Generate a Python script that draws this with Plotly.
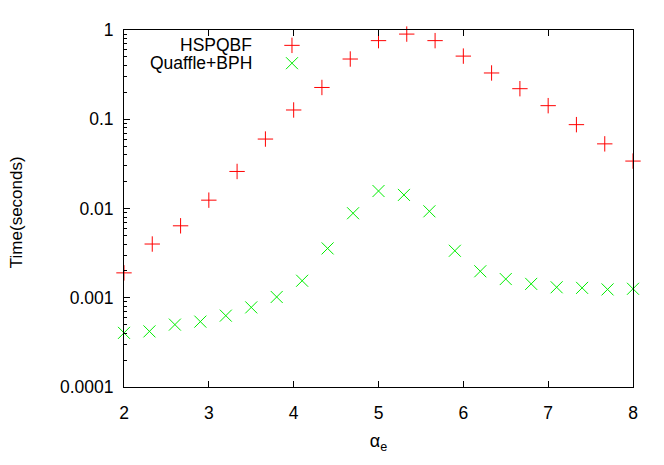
import plotly.graph_objects as go

# HSPQBF series
alpha_hspqbf = [2.0, 2.333, 2.667, 3.0, 3.333, 3.667, 4.0, 4.333, 4.667, 5.0,
                5.333, 5.667, 6.0, 6.333, 6.667, 7.0, 7.333, 7.667, 8.0]
time_hspqbf = [0.0019, 0.0040, 0.0064, 0.0124, 0.026, 0.060, 0.127, 0.227, 0.473, 0.76,
               0.90, 0.76, 0.51, 0.33, 0.22, 0.142, 0.087, 0.053, 0.034]

# Quaffle+BPH series
alpha_quaffle = [2.0, 2.3, 2.6, 2.9, 3.2, 3.5, 3.8, 4.1, 4.4, 4.7, 5.0,
                 5.3, 5.6, 5.9, 6.2, 6.5, 6.8, 7.1, 7.4, 7.7, 8.0]
time_quaffle = [0.000404, 0.00042, 0.00050, 0.00054, 0.00063, 0.00078, 0.00102, 0.00155,
                0.00357, 0.00885, 0.0157, 0.0142, 0.0093, 0.00336, 0.00198, 0.00162,
                0.00143, 0.00131, 0.00129, 0.00124, 0.00126]

y_tickvals = [0.0001, 0.001, 0.01, 0.1, 1]
y_ticktext = ['0.0001', '0.001', '0.01', '0.1', '1']

names = ['HSPQBF', 'Quaffle+BPH']
colors = ['#ff0000', '#00ee00']
symbols = ['cross-thin', 'x-thin']

FONT = 'Liberation Sans, Arial, sans-serif'

fig = go.Figure()
fig.add_trace(go.Scatter(x=alpha_hspqbf, y=time_hspqbf, mode='markers', name=names[0],
                         marker=dict(symbol=symbols[0], size=11, line=dict(color=colors[0], width=1)),
                         cliponaxis=False, showlegend=False))
fig.add_trace(go.Scatter(x=alpha_quaffle, y=time_quaffle, mode='markers', name=names[1],
                         marker=dict(symbol=symbols[1], size=12, line=dict(color=colors[1], width=1)),
                         cliponaxis=False, showlegend=False))

# legend key, gnuplot style (text left of sample), on an overlay axis in [0,1]
key_y = [0.957, 0.907]
for i in range(2):
    fig.add_trace(go.Scatter(x=[0.330], y=[key_y[i]], xaxis='x2', yaxis='y2', mode='markers',
                             marker=dict(symbol=symbols[i], size=11 + i, line=dict(color=colors[i], width=1)),
                             cliponaxis=False, showlegend=False, hoverinfo='skip'))
    fig.add_annotation(x=0.256, y=key_y[i], xref='paper', yref='paper', text=names[i],
                       showarrow=False, xanchor='right', yanchor='middle',
                       font=dict(family=FONT, size=17.5, color='black'))

# y axis title
fig.add_annotation(x=-0.212, y=0.49, xref='paper', yref='paper', text='Time(seconds)',
                   textangle=-90, showarrow=False, xanchor='center', yanchor='middle',
                   font=dict(family=FONT, size=17, color='black'))

minor_vals = [m * 10 ** e for e in range(-4, 0) for m in range(2, 10)]

# page has an 8px body margin, so the figure is a bit smaller than the window
fig.update_layout(
    width=656, height=457,
    margin=dict(l=116, r=31, t=14, b=78),
    plot_bgcolor='white', paper_bgcolor='white',
    font=dict(family=FONT, size=17.5, color='black'),
    xaxis=dict(range=[2, 8], dtick=1, showgrid=False, zeroline=False,
               showline=True, linecolor='black', linewidth=1, mirror='ticks',
               ticks='inside', ticklen=6, tickcolor='black', ticklabelstandoff=10,
               title=dict(text='α<sub>e</sub>', standoff=12, font=dict(size=18))),
    yaxis=dict(type='log', range=[-4, 0], tickvals=y_tickvals, ticktext=y_ticktext,
               showgrid=False, zeroline=False, showline=True, linecolor='black',
               linewidth=1, mirror=True, ticks='inside', ticklen=6, tickcolor='black',
               ticklabelstandoff=6,
               minor=dict(tickvals=minor_vals, ticks='inside', ticklen=3,
                          tickcolor='black', showgrid=False)),
    xaxis2=dict(range=[0, 1], overlaying='x', visible=False),
    yaxis2=dict(range=[0, 1], overlaying='y', visible=False),
)

fig.write_html('out.html')
